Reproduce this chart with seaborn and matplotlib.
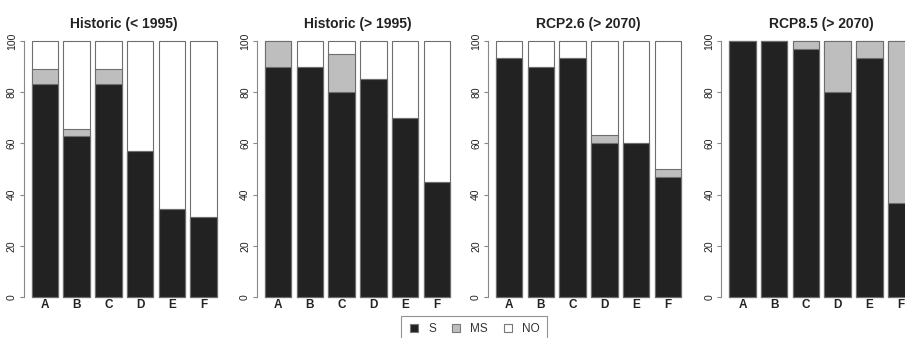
import numpy as np
import pandas as pd
import matplotlib
matplotlib.use('Agg')
import matplotlib.pyplot as plt
import seaborn as sns
from matplotlib.lines import Line2D

# ---- data ----
categories = ['A', 'B', 'C', 'D', 'E', 'F']
panel_titles = ['Historic (< 1995)', 'Historic (> 1995)', 'RCP2.6 (> 2070)', 'RCP8.5 (> 2070)']
s_hist_pre = [83.3, 62.9, 83.3, 57.1, 34.3, 31.4]
ms_hist_pre = [5.6, 2.9, 5.6, 0, 0, 0]
s_hist_post = [90, 90, 80, 85, 70, 45]
ms_hist_post = [10, 0, 15, 0, 0, 0]
s_rcp26 = [93.3, 90, 93.3, 60, 60, 46.7]
ms_rcp26 = [0, 0, 0, 3.3, 0, 3.3]
s_rcp85 = [100, 100, 96.7, 80, 93.3, 36.7]
ms_rcp85 = [0, 0, 3.3, 20, 6.7, 63.3]
legend_labels = ['S', 'MS', 'NO']
yticks = [0, 20, 40, 60, 80, 100]

s_series = [s_hist_pre, s_hist_post, s_rcp26, s_rcp85]
ms_series = [ms_hist_pre, ms_hist_post, ms_rcp26, ms_rcp85]

# ---- style ----
sns.set_style('white')
plt.rcParams['font.family'] = ['Liberation Sans', 'DejaVu Sans']

col_s = '#222222'
col_ms = '#bebebe'
col_no = '#ffffff'
edge = '#6e6e6e'

W, H = 905, 338
fig = plt.figure(figsize=(W / 100, H / 100), dpi=100)
fig.patch.set_facecolor('white')

axis_left_px = [23.7, 257, 488, 721.3]
axis_w_px = 201
bottom_px = 307.2
top_px = 30.8
bar_w = 1 / 1.2
xl = -bar_w / 2 - 8 / 31.71

for i in range(4):
    ax = fig.add_axes([axis_left_px[i] / W, 1 - bottom_px / H,
                       axis_w_px / W, (bottom_px - top_px) / H])
    s = np.array(s_series[i], dtype=float)
    ms = np.array(ms_series[i], dtype=float)
    df = pd.DataFrame({'cat': categories, 'total': 100.0,
                       'sms': s + ms, 's': s})
    sns.barplot(data=df, x='cat', y='total', color=col_no, saturation=1,
                edgecolor=edge, linewidth=0.8, width=bar_w, errorbar=None, ax=ax)
    sns.barplot(data=df, x='cat', y='sms', color=col_ms, saturation=1,
                edgecolor=edge, linewidth=0.8, width=bar_w, errorbar=None, ax=ax)
    sns.barplot(data=df, x='cat', y='s', color=col_s, saturation=1,
                edgecolor=edge, linewidth=0.8, width=bar_w, errorbar=None, ax=ax)
    ax.set_xlim(xl, 5 - xl)
    ax.set_ylim(-4, 104)
    ax.set_xlabel('')
    ax.set_ylabel('')
    ax.set_yticks(yticks)
    ax.set_yticklabels([str(v) for v in yticks], rotation=90, va='center',
                       fontsize=7.5, color='#222222')
    ax.tick_params(axis='y', length=3, width=0.8, color='#888888', pad=2, left=True)
    ax.tick_params(axis='x', length=0, pad=-6)
    for lab in ax.get_xticklabels():
        lab.set_fontweight('bold')
        lab.set_fontsize(8.5)
        lab.set_color('#222222')
    for sp in ['top', 'right', 'bottom']:
        ax.spines[sp].set_visible(False)
    ax.spines['left'].set_bounds(0, 100)
    ax.spines['left'].set_color('#888888')
    ax.spines['left'].set_linewidth(0.8)
    ax.set_title(panel_titles[i], fontsize=10, fontweight='bold',
                 color='#222222', pad=2)
    ax.patch.set_alpha(0)

handles = [Line2D([], [], linestyle='none', marker='s', markersize=5.5,
                  markerfacecolor=c, markeredgecolor='#777777', markeredgewidth=0.8)
           for c in [col_s, col_ms, col_no]]
leg = fig.legend(handles, legend_labels, loc='upper left',
                 bbox_to_anchor=(401 / W, 1 - 316 / H), ncol=3, frameon=True,
                 fancybox=False, edgecolor='#777777', fontsize=8.5,
                 handlelength=1.0, handletextpad=0.7, columnspacing=1.2,
                 borderpad=0.6, borderaxespad=0)
leg.get_frame().set_linewidth(0.8)
for t in leg.get_texts():
    t.set_color('#333333')

fig.savefig('out.png', dpi=100, facecolor='white')
